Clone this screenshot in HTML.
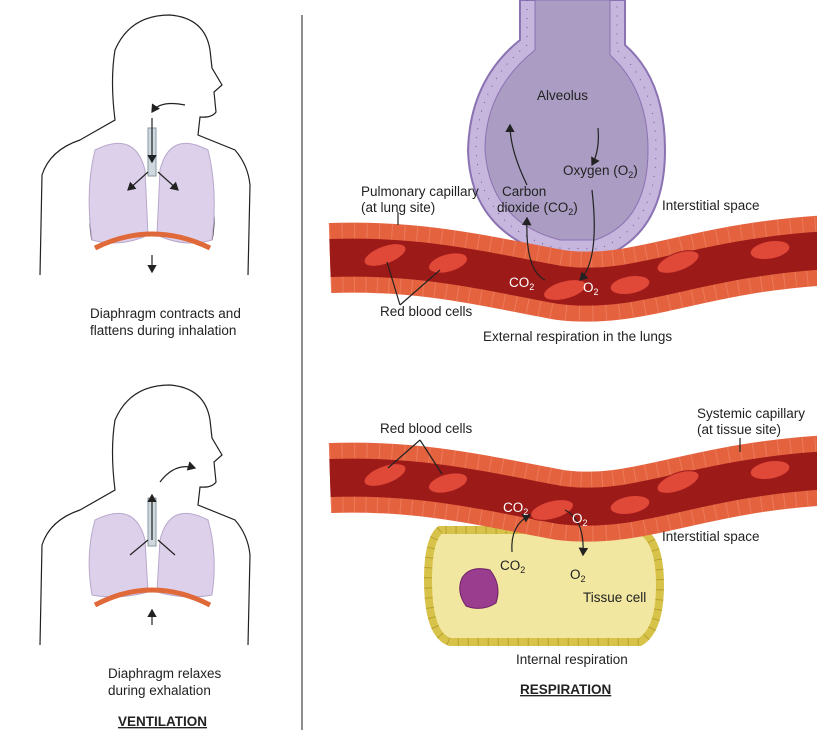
<!DOCTYPE html>
<html><head><meta charset="utf-8"><style>
body{margin:0;background:#fff}
svg{display:block}
text{font-family:"Liberation Sans",sans-serif;font-size:13.5px;fill:#222}
</style></head><body>
<svg width="817" height="732" viewBox="0 0 817 732">
<defs>
<marker id="ar" markerWidth="8" markerHeight="8" refX="6" refY="4" orient="auto"><path d="M0,0 L7,4 L0,8 z" fill="#222"/></marker>
</defs>
<line x1="302" y1="15" x2="302" y2="730" stroke="#444" stroke-width="1.2"/>

<!-- Left top figure -->
<g fill="none" stroke="#222" stroke-width="1.2">
<path d="M40,275 L42,175 Q50,150 80,140 L115,120 Q110,80 115,50 Q130,15 170,15 Q205,18 210,50 L212,68 L222,85 L214,92 L216,112 Q212,118 200,117 L198,135 L235,150 Q248,165 250,185 L248,275"/>
<path d="M92,195 Q88,220 92,240 M212,195 Q216,220 212,240"/>
</g>
<path d="M95,150 Q135,130 145,170 L148,235 Q120,248 92,240 Q85,190 95,150z" fill="#ddd0ea" stroke="#b8a8cc"/>
<path d="M208,150 Q170,130 160,170 L157,235 Q185,248 212,240 Q218,190 208,150z" fill="#ddd0ea" stroke="#b8a8cc"/>
<rect x="148" y="128" width="8" height="48" fill="#cfd8de" stroke="#8a9aa4"/>
<path d="M95,248 Q152,220 210,248" fill="none" stroke="#e0693a" stroke-width="5"/>
<g stroke="#222" stroke-width="1.2" fill="none">
<path d="M185,105 Q160,100 152,112" marker-end="url(#ar)"/>
<line x1="152" y1="118" x2="152" y2="162" marker-end="url(#ar)"/>
<line x1="148" y1="172" x2="128" y2="190" marker-end="url(#ar)"/>
<line x1="158" y1="172" x2="178" y2="190" marker-end="url(#ar)"/>
<line x1="152" y1="255" x2="152" y2="272" marker-end="url(#ar)"/>
</g>
<text x="90" y="318">Diaphragm contracts and</text>
<text x="90" y="335">flattens during inhalation</text>

<!-- Left bottom figure -->
<g fill="none" stroke="#222" stroke-width="1.2">
<path d="M40,645 L42,545 Q50,520 80,510 L115,490 Q110,450 115,420 Q130,385 170,385 Q205,388 210,420 L212,438 L222,455 L214,462 L216,482 Q212,488 200,487 L198,505 L235,520 Q248,535 250,555 L248,645"/>
</g>
<path d="M95,520 Q135,500 145,540 L148,592 Q120,600 92,595 Q85,555 95,520z" fill="#ddd0ea" stroke="#b8a8cc"/>
<path d="M208,520 Q170,500 160,540 L157,592 Q185,600 212,595 Q218,555 208,520z" fill="#ddd0ea" stroke="#b8a8cc"/>
<rect x="148" y="498" width="8" height="48" fill="#cfd8de" stroke="#8a9aa4"/>
<path d="M95,605 Q152,575 210,605" fill="none" stroke="#e0693a" stroke-width="5"/>
<g stroke="#222" stroke-width="1.2" fill="none">
<path d="M160,482 Q175,462 195,468" marker-end="url(#ar)"/>
<line x1="152" y1="540" x2="152" y2="495" marker-end="url(#ar)"/>
<line x1="130" y1="555" x2="148" y2="540"/>
<line x1="175" y1="555" x2="158" y2="540"/>
<line x1="152" y1="625" x2="152" y2="610" marker-end="url(#ar)"/>
</g>
<text x="108" y="678">Diaphragm relaxes</text>
<text x="108" y="695">during exhalation</text>
<text x="118" y="726" style="font-weight:bold;text-decoration:underline">VENTILATION</text>

<!-- Alveolus -->
<path d="M520,0 L520,40 Q470,80 468,150 Q470,230 550,255 L600,258 Q665,235 665,150 Q665,80 625,45 L625,0 Z" fill="#c6b5dc" stroke="#8b72b3" stroke-width="2"/>
<path d="M535,0 L535,50 Q485,90 485,150 Q490,222 560,240 L595,240 Q648,222 648,150 Q648,90 610,55 L610,0 Z" fill="#aa9cc2" stroke="#8b72b3" stroke-width="1"/>
<path d="M527,0 L527,45 Q477,85 476,150 Q480,226 555,248 L598,249 Q656,228 656,150 Q656,85 617,50 L617,0" fill="none" stroke="#6e5898" stroke-width="1" stroke-dasharray="1 8"/>
<text x="537" y="100">Alveolus</text>
<text x="563" y="175">Oxygen (O<tspan font-size="9" dy="3">2</tspan><tspan dy="-3">)</tspan></text>
<text x="502" y="196">Carbon</text>
<text x="497" y="212">dioxide (CO<tspan font-size="9" dy="3">2</tspan><tspan dy="-3">)</tspan></text>

<!-- Top capillary -->
<path d="M330,258 C420,255 480,270 560,285 C640,295 690,258 830,250" fill="none" stroke="#e5623f" stroke-width="70"/>
<path d="M330,258 C420,255 480,270 560,285 C640,295 690,258 830,250" fill="none" stroke="#f08a6a" stroke-width="70" stroke-dasharray="1 11" opacity="0.6"/>
<path d="M330,258 C420,255 480,270 560,285 C640,295 690,258 830,250" fill="none" stroke="#9c1a18" stroke-width="38"/>
<g fill="#e04838" stroke="#a01c1c">
<ellipse cx="385" cy="255" rx="22" ry="9" transform="rotate(-20 385 255)"/>
<ellipse cx="448" cy="263" rx="20" ry="9" transform="rotate(-15 448 263)"/>
<ellipse cx="565" cy="290" rx="22" ry="9" transform="rotate(-15 565 290)"/>
<ellipse cx="630" cy="285" rx="20" ry="9" transform="rotate(-10 630 285)"/>
<ellipse cx="678" cy="262" rx="22" ry="9" transform="rotate(-20 678 262)"/>
<ellipse cx="770" cy="250" rx="20" ry="9" transform="rotate(-10 770 250)"/>
</g>
<g stroke="#222" stroke-width="1.2" fill="none">
<path d="M545,280 Q525,270 527,218" marker-end="url(#ar)"/>
<path d="M527,185 Q510,150 510,125" marker-end="url(#ar)"/>
<path d="M598,128 Q600,150 592,165" marker-end="url(#ar)"/>
<path d="M592,190 Q600,260 580,280" marker-end="url(#ar)"/>
<line x1="400" y1="305" x2="387" y2="262"/><line x1="400" y1="305" x2="440" y2="270"/>
<line x1="398" y1="212" x2="398" y2="225"/>
</g>
<text x="509" y="287" style="fill:#fff">CO<tspan font-size="9" dy="3">2</tspan></text>
<text x="583" y="292" style="fill:#fff">O<tspan font-size="9" dy="3">2</tspan></text>
<text x="361" y="196">Pulmonary capillary</text>
<text x="361" y="212">(at lung site)</text>
<text x="662" y="210">Interstitial space</text>
<text x="380" y="316">Red blood cells</text>
<text x="483" y="341">External respiration in the lungs</text>

<!-- Tissue cell -->
<path d="M440,530 Q428,540 428,580 Q428,635 450,642 L640,642 Q660,630 660,585 Q660,540 640,530 Z" fill="#f2e7a0" stroke="#d8c34a" stroke-width="8"/>
<path d="M440,530 Q428,540 428,580 Q428,635 450,642 L640,642 Q660,630 660,585 Q660,540 640,530 Z" fill="none" stroke="#b8a030" stroke-width="8" stroke-dasharray="1 9"/>
<path d="M462,578 Q470,565 490,570 Q502,585 496,603 Q482,612 466,606 Q456,592 462,578z" fill="#9a3d8e" stroke="#6e2066"/>

<!-- Bottom capillary -->
<path d="M330,478 C420,475 480,490 560,505 C640,515 690,478 830,470" fill="none" stroke="#e5623f" stroke-width="70"/>
<path d="M330,478 C420,475 480,490 560,505 C640,515 690,478 830,470" fill="none" stroke="#f08a6a" stroke-width="70" stroke-dasharray="1 11" opacity="0.6"/>
<path d="M330,478 C420,475 480,490 560,505 C640,515 690,478 830,470" fill="none" stroke="#9c1a18" stroke-width="38"/>
<g fill="#e04838" stroke="#a01c1c">
<ellipse cx="385" cy="475" rx="22" ry="9" transform="rotate(-20 385 475)"/>
<ellipse cx="448" cy="483" rx="20" ry="9" transform="rotate(-15 448 483)"/>
<ellipse cx="552" cy="510" rx="22" ry="9" transform="rotate(-15 552 510)"/>
<ellipse cx="630" cy="505" rx="20" ry="9" transform="rotate(-10 630 505)"/>
<ellipse cx="678" cy="482" rx="22" ry="9" transform="rotate(-20 678 482)"/>
<ellipse cx="770" cy="470" rx="20" ry="9" transform="rotate(-10 770 470)"/>
</g>
<g stroke="#222" stroke-width="1.2" fill="none">
<path d="M512,552 Q510,525 530,515" marker-end="url(#ar)"/>
<path d="M565,510 Q585,520 583,555" marker-end="url(#ar)"/>
<line x1="420" y1="440" x2="388" y2="468"/><line x1="420" y1="440" x2="442" y2="474"/>
<line x1="740" y1="438" x2="740" y2="452"/>
</g>
<text x="503" y="512" style="fill:#fff">CO<tspan font-size="9" dy="3">2</tspan></text>
<text x="572" y="523" style="fill:#fff">O<tspan font-size="9" dy="3">2</tspan></text>
<text x="500" y="570">CO<tspan font-size="9" dy="3">2</tspan></text>
<text x="570" y="579">O<tspan font-size="9" dy="3">2</tspan></text>
<text x="583" y="602">Tissue cell</text>
<text x="380" y="433">Red blood cells</text>
<text x="697" y="418">Systemic capillary</text>
<text x="697" y="434">(at tissue site)</text>
<text x="662" y="541">Interstitial space</text>
<text x="516" y="664">Internal respiration</text>
<text x="520" y="694" style="font-weight:bold;text-decoration:underline">RESPIRATION</text>
</svg>
</body></html>
